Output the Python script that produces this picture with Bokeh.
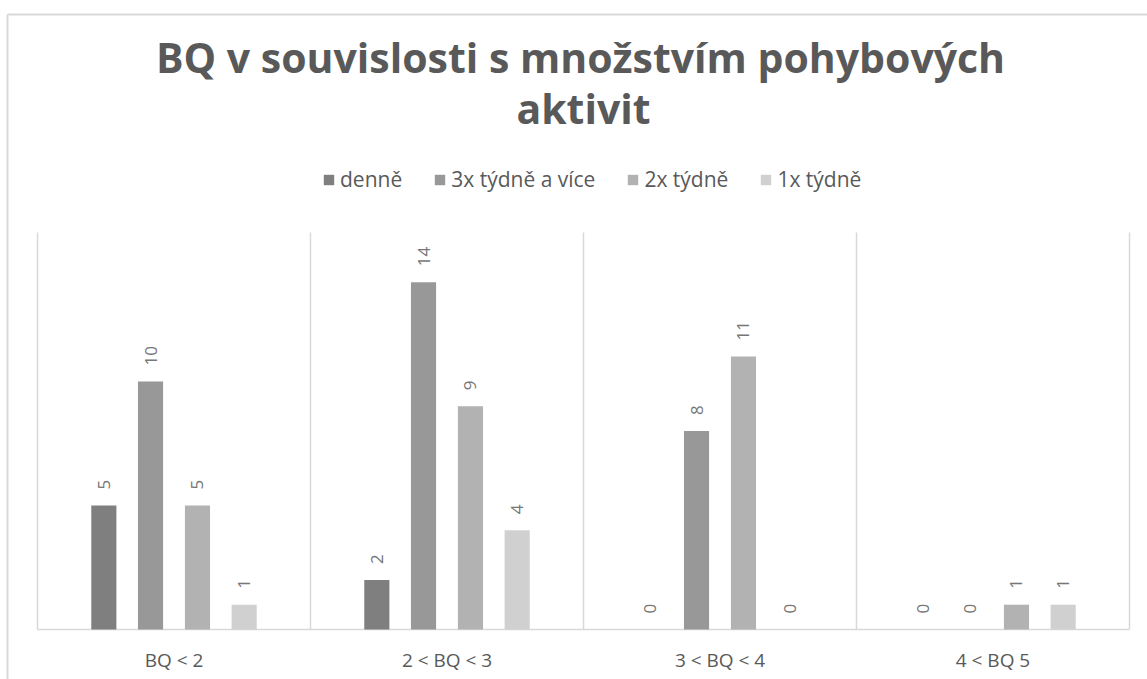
import math
import numpy as np
from bokeh.plotting import figure
from bokeh.models import ColumnDataSource, Legend, LegendItem, Label, Range1d
from bokeh.core.properties import value
from bokeh.embed import file_html
from bokeh.resources import INLINE

categories = ["BQ < 2", "2 < BQ < 3", "3 < BQ < 4", "4 < BQ 5"]
series_names = ["denně", "3x týdně a více", "2x týdně", "1x týdně"]
denne = [5, 2, 0, 0]
tyden3 = [10, 14, 8, 0]
tyden2 = [5, 9, 11, 1]
tyden1 = [1, 4, 0, 1]
y_max = 16
title_line1 = "BQ v souvislosti s množstvím pohybových"
title_line2 = "aktivit"

series_values = [denne, tyden3, tyden2, tyden1]
colors = ["#7f7f7f", "#989898", "#b2b2b2", "#d0d0d0"]
offsets = [-0.257, -0.086, 0.086, 0.257]
FONT = "Open Sans"
TEXT_COLOR = "#595959"
LABEL_COLOR = "#767676"
GRID = "#d9d9d9"

# ---- layout in canvas pixels ----
W, H = 1147, 679
PLOT_L, PLOT_R = 37, 1129        # category area left/right (canvas x)
PLOT_T, PLOT_B = 232, 629        # top of value axis / baseline (canvas y)
n = len(categories)
px_per_x = (PLOT_R - PLOT_L) / n
px_per_y = (PLOT_B - PLOT_T) / y_max
x_start = -PLOT_L / px_per_x
x_end = (W - PLOT_L) / px_per_x
y_start = -(H - PLOT_B) / px_per_y
y_end = PLOT_B / px_per_y


def cx(px):
    return (px - PLOT_L) / px_per_x


def cy(py):
    return (PLOT_B - py) / px_per_y


p = figure(
    x_range=Range1d(x_start, x_end), y_range=Range1d(y_start, y_end),
    width=W, height=H, title=None,
    output_backend="svg", toolbar_location=None,
    min_border=0,
)
p.outline_line_color = None
p.background_fill_color = "white"
p.border_fill_color = "white"
p.grid.visible = False
p.axis.visible = False

# outer chart border (left and top)
p.segment(x0=[cx(7), cx(7)], y0=[cy(14), cy(14)], x1=[cx(7), cx(W + 5)],
          y1=[cy(H + 5), cy(14)], line_color=GRID, line_width=2)

# category separators and baseline
bounds = np.arange(n + 1)
p.segment(x0=bounds, y0=np.zeros(n + 1), x1=bounds, y1=np.full(n + 1, y_max),
          line_color=GRID, line_width=1.5)
p.segment(x0=[0], y0=[0], x1=[n], y1=[0], line_color=GRID, line_width=1.5)

centers = np.arange(n) + 0.5
renderers = []
for i, vals in enumerate(series_values):
    src = ColumnDataSource(dict(x=centers + offsets[i], top=vals,
                                lbl=[str(v) for v in vals]))
    r = p.vbar(x="x", top="top", width=0.092, source=src,
               fill_color=colors[i], line_color=None)
    renderers.append(r)
    p.text(x="x", y="top", text="lbl", source=src, angle=math.pi / 2,
           text_align="left", text_baseline="middle", y_offset=-16,
           text_font=value(FONT), text_font_size="17px", text_color=LABEL_COLOR)

# category labels
cat_src = ColumnDataSource(dict(x=centers, y=np.zeros(n), t=categories))
p.text(x="x", y="y", text="t", source=cat_src, text_align="center",
       text_baseline="middle", y_offset=30, text_font=value(FONT),
       text_font_size="19px", text_color=TEXT_COLOR)

# title
for txt, px, py in [(title_line1, 580, 56), (title_line2, 583, 107)]:
    p.add_layout(Label(x=cx(px), y=cy(py), text=txt, text_align="center",
                       text_baseline="alphabetic", text_font=FONT,
                       text_font_size="41px", text_font_style="bold",
                       text_color=TEXT_COLOR))

legend = Legend(
    items=[LegendItem(label=series_names[i], renderers=[renderers[i]]) for i in range(4)],
    orientation="horizontal", location=(322, H - 193),
    glyph_width=13, glyph_height=13, label_standoff=5, spacing=31,
    padding=0, margin=0, border_line_color=None, background_fill_alpha=0,
    label_text_font=FONT, label_text_font_size="21px", label_text_color=TEXT_COLOR,
    label_height=22,
)
p.add_layout(legend, "center")

open("out.html", "w").write(file_html(p, INLINE))
